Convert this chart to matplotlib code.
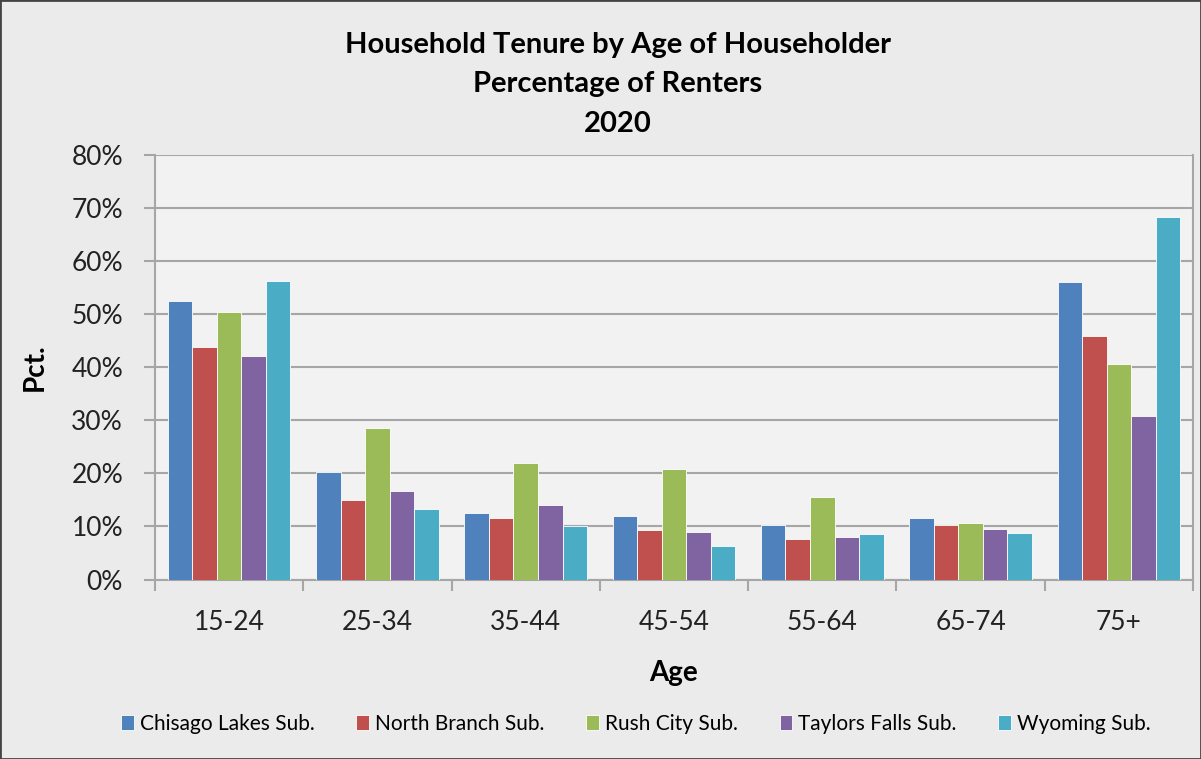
import numpy as np
import matplotlib
matplotlib.use("Agg")
import matplotlib.pyplot as plt
from matplotlib.patches import Rectangle

plt.rcParams['font.family'] = ['Lato', 'DejaVu Sans']

ages = ["15-24", "25-34", "35-44", "45-54", "55-64", "65-74", "75+"]
chisago = [52.4, 20.3, 12.6, 12.0, 10.3, 11.5, 56.0]
north_branch = [43.8, 15.0, 11.5, 9.3, 7.6, 10.3, 45.9]
rush_city = [50.5, 28.6, 22.0, 20.9, 15.6, 10.7, 40.6]
taylors = [42.1, 16.7, 14.1, 9.0, 8.1, 9.5, 30.8]
wyoming = [56.3, 13.2, 10.0, 6.4, 8.6, 8.8, 68.3]

series = [chisago, north_branch, rush_city, taylors, wyoming]
names = ["Chisago Lakes Sub.", "North Branch Sub.", "Rush City Sub.",
         "Taylors Falls Sub.", "Wyoming Sub."]
colors = ["#4F81BD", "#C0504D", "#9BBB59", "#8064A2", "#4BACC6"]

fig = plt.figure(figsize=(12.01, 7.59), dpi=100)
fig.patch.set_facecolor("#ebebeb")
ax = fig.add_axes([155/1201, 1 - 579.5/759, (1193-155)/1201, (579.5-155)/759])
ax.set_facecolor("#f2f2f2")

x = np.arange(len(ages))
w = 0.1655
for i, (vals, nm, c) in enumerate(zip(series, names, colors)):
    ax.bar(x + (i - 2) * w, vals, w, color=c, label=nm,
           edgecolor="#ffffff", linewidth=0.6, zorder=3)

ax.set_xlim(-0.5, len(ages) - 0.5)
ax.set_ylim(0, 80)
ax.set_yticks(np.arange(0, 81, 10))
ax.set_yticklabels([f"{v}%" for v in range(0, 81, 10)], fontsize=19, color="#222222")
ax.yaxis.grid(True, color="#a6a6a6", linewidth=1.5, zorder=0)
ax.set_axisbelow(True)

ax.set_xticks(x)
ax.set_xticklabels(ages, fontsize=19, color="#222222")
ax.set_xticks(np.arange(-0.5, len(ages), 1), minor=True)
ax.tick_params(axis="x", which="major", length=0, pad=22)
ax.tick_params(axis="x", which="minor", length=8, width=1.5, color="#a6a6a6")
ax.tick_params(axis="y", length=8, width=1.5, color="#a6a6a6", pad=15)

for s in ax.spines.values():
    s.set_color("#a6a6a6")
    s.set_linewidth(1.5)
ax.spines["top"].set_visible(False)

ax.set_xlabel("Age", fontsize=20, fontweight="bold", labelpad=18)
ax.set_ylabel("Pct.", fontsize=20, fontweight="bold", labelpad=17)

fig.text(618/1201, 1 - 45/759, "Household Tenure by Age of Householder",
         ha="center", va="center", fontsize=21, fontweight="bold")
fig.text(618/1201, 1 - 84/759, "Percentage of Renters",
         ha="center", va="center", fontsize=21, fontweight="bold")
fig.text(618/1201, 1 - 124/759, "2020",
         ha="center", va="center", fontsize=21, fontweight="bold")

fig.legend(loc="center", bbox_to_anchor=(636/1201, 1 - 724/759), ncol=5,
           frameon=False, fontsize=15, handlelength=0.6, handleheight=0.7,
           handletextpad=0.3, columnspacing=2.0)

fig.add_artist(Rectangle((0, 0), 1, 1, transform=fig.transFigure,
                         fill=False, edgecolor="#444444", linewidth=2))

fig.savefig("out.png", dpi=100, facecolor=fig.get_facecolor())
